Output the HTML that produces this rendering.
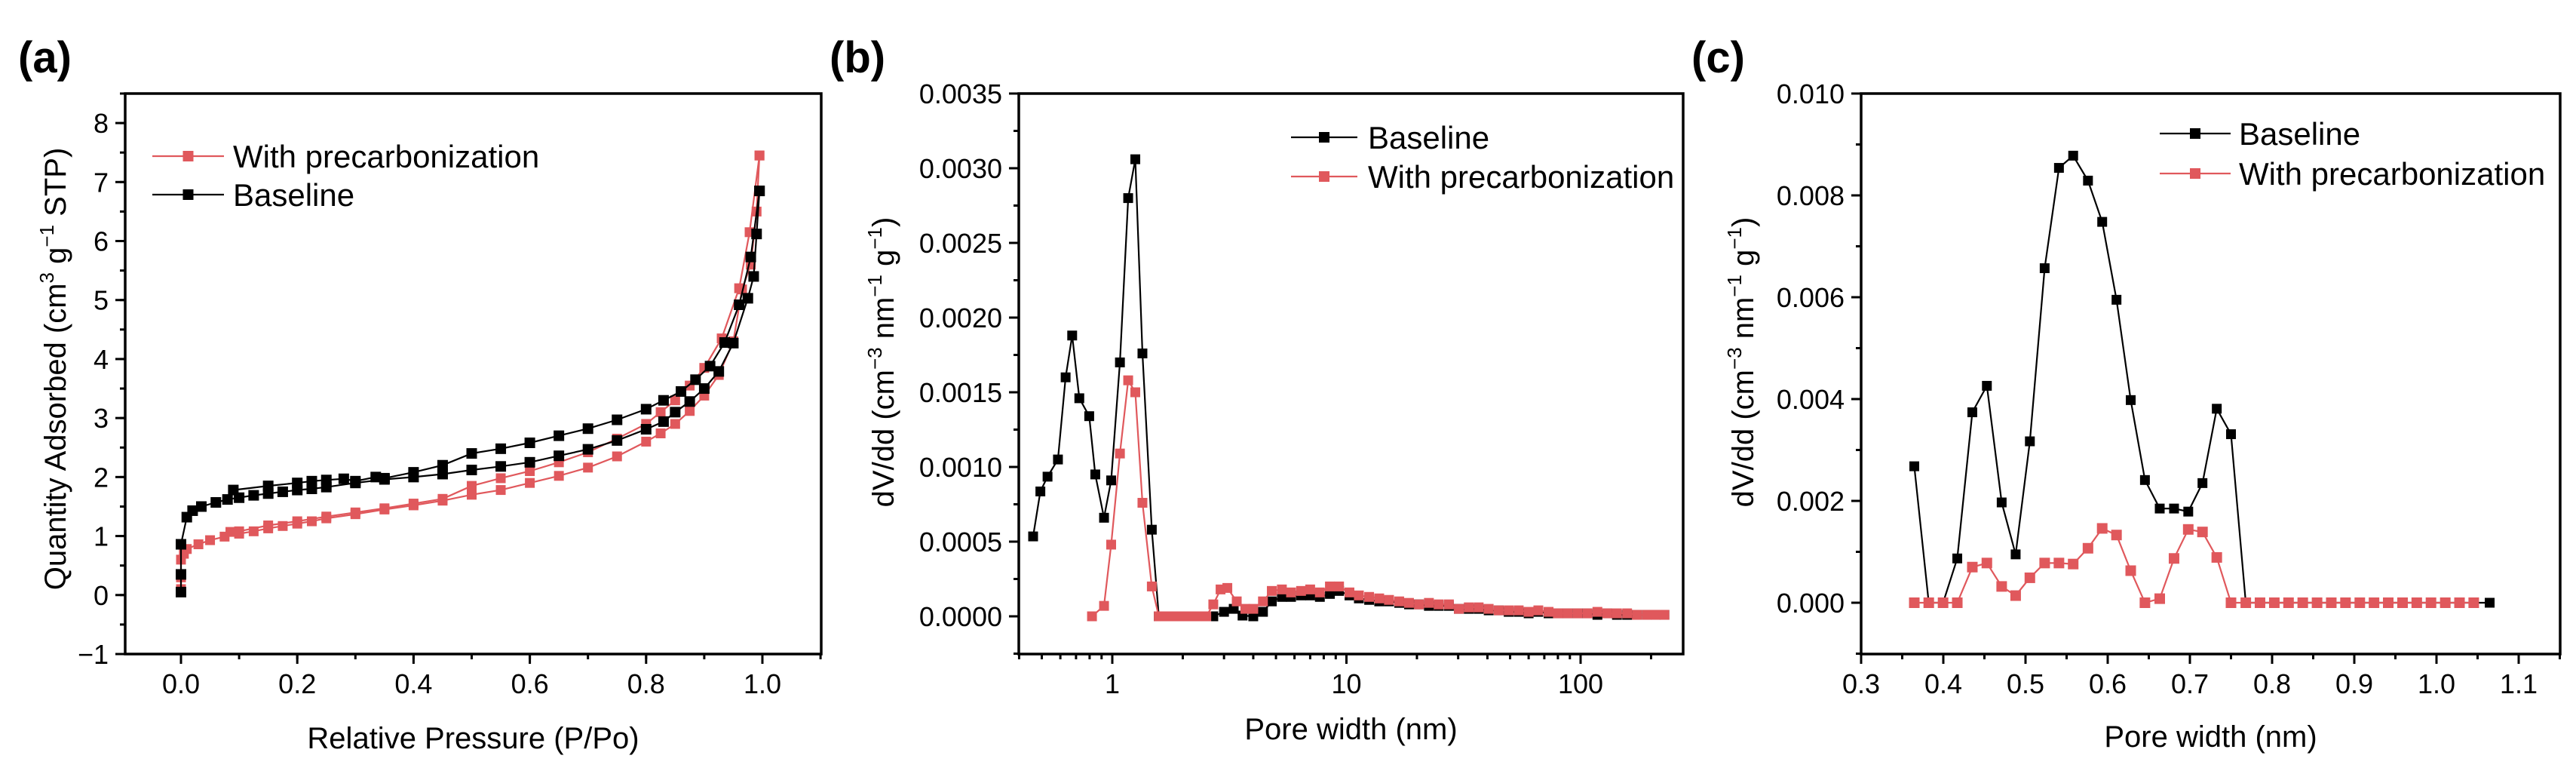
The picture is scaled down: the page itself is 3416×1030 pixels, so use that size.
<!DOCTYPE html>
<html><head><meta charset="utf-8"><style>
html,body{margin:0;padding:0;background:#fff;}
svg{display:block;font-family:"Liberation Sans",Arial,sans-serif;}
</style></head><body>
<svg id="fig" width="3416" height="1030" viewBox="0 0 3416 1030" xmlns="http://www.w3.org/2000/svg"></svg>
<script>
// ---------- Panel (a) data: isotherms ----------
const aBaseAdsX=[0,0,0,0.01,0.02,0.035,0.06,0.08,0.1,0.125,0.15,0.175,0.2,0.225,0.25,0.3,0.35,0.4,0.45,0.5,0.55,0.6,0.65,0.7,0.75,0.8,0.83,0.85,0.875,0.9,0.925,0.95,0.975,0.985,0.99,0.995];
const aBaseAdsY=[0.05,0.35,0.86,1.32,1.43,1.5,1.57,1.62,1.65,1.69,1.72,1.75,1.78,1.8,1.83,1.9,1.96,2.0,2.05,2.12,2.18,2.25,2.36,2.47,2.62,2.81,2.94,3.1,3.28,3.5,3.79,4.27,5.03,5.4,6.12,6.85];
const aBaseDesX=[0.995,0.98,0.96,0.935,0.91,0.885,0.86,0.83,0.8,0.75,0.7,0.65,0.6,0.55,0.5,0.45,0.4,0.35,0.335,0.3,0.28,0.25,0.225,0.2,0.15,0.09];
const aBaseDesY=[6.85,5.73,4.92,4.28,3.88,3.65,3.45,3.3,3.15,2.97,2.82,2.7,2.58,2.48,2.4,2.2,2.08,1.98,2.0,1.93,1.97,1.95,1.93,1.9,1.85,1.78];
const aPreAdsX=[0,0,0,0.005,0.01,0.03,0.05,0.075,0.1,0.125,0.15,0.175,0.2,0.225,0.25,0.3,0.35,0.4,0.45,0.5,0.55,0.6,0.65,0.7,0.75,0.8,0.825,0.85,0.875,0.9,0.925,0.95,0.965,0.98,0.99,0.995];
const aPreAdsY=[0.1,0.3,0.6,0.7,0.78,0.86,0.93,0.99,1.04,1.08,1.13,1.17,1.21,1.25,1.3,1.37,1.45,1.52,1.6,1.7,1.78,1.9,2.02,2.16,2.35,2.6,2.74,2.9,3.12,3.38,3.73,4.3,5.18,5.6,6.5,7.45];
const aPreDesX=[0.995,0.978,0.96,0.93,0.9,0.875,0.85,0.825,0.8,0.75,0.7,0.65,0.6,0.55,0.5,0.45,0.4,0.35,0.3,0.25,0.2,0.15,0.1,0.085];
const aPreDesY=[7.45,6.15,5.2,4.35,3.85,3.55,3.3,3.1,2.9,2.65,2.42,2.25,2.1,1.98,1.85,1.63,1.55,1.47,1.4,1.33,1.25,1.18,1.08,1.07];
const aXTicks=[0,0.2,0.4,0.6,0.8,1.0];
const aXTickLabels=["0.0","0.2","0.4","0.6","0.8","1.0"];
const aYTicks=[-1,0,1,2,3,4,5,6,7,8];
const aYTickLabels=["\u22121","0","1","2","3","4","5","6","7","8"];

// ---------- Panel (b) data: PSD log scale ----------
const bBaseX=[0.459,0.493,0.529,0.586,0.632,0.674,0.723,0.797,0.846,0.922,0.989,1.078,1.169,1.254,1.345,1.475,1.58,2.7,3.0,3.3,3.6,4.0,4.4,4.8,5.3,5.8,6.4,7.0,7.7,8.5,9.3,10.3,11.3,12.5,13.8,15.2,16.8,18.5,20.4,22.5,24.8,27.4,30.2,33.3,36.7,40.5,44.7,49.3,54.4,60,66,73,80,88,97,107,118,130,143,158,174,192,210,228];
const bBaseY=[0.000535,0.000836,0.000935,0.00105,0.0016,0.00188,0.00146,0.00134,0.00095,0.00066,0.00091,0.0017,0.0028,0.00306,0.00176,0.00058,0,0,0.00003,0.00005,0.000005,0,0.00003,0.0001,0.00013,0.00013,0.00014,0.00014,0.00013,0.00015,0.00017,0.00014,0.00012,0.00011,0.0001,0.0001,0.00009,0.00008,0.00008,0.00007,0.00007,0.00007,0.00005,0.00005,0.00005,0.00004,0.00004,0.00003,0.00003,0.00002,0.00003,0.00002,0.00002,0.00002,0.00002,0.00002,0.00001,0.00002,0.00001,0.00001,0.00001,0.00001,0.00001,0.00001];
const bPreX=[0.819,0.922,0.989,1.078,1.169,1.254,1.345,1.475,1.58,1.68,1.78,1.89,2.0,2.12,2.25,2.38,2.52,2.7,2.9,3.1,3.4,3.7,4.0,4.4,4.8,5.3,5.8,6.4,7.0,7.7,8.5,9.3,10.3,11.3,12.5,13.8,15.2,16.8,18.5,20.4,22.5,24.8,27.4,30.2,33.3,36.7,40.5,44.7,49.3,54.4,60,66,73,80,88,97,107,118,130,143,158,174,192,210,228];
const bPreY=[0,0.00007,0.00048,0.00109,0.00158,0.0015,0.00076,0.0002,0,0,0,0,0,0,0,0,0,0.00008,0.00018,0.00019,0.0001,0.00005,0.00005,0.0001,0.00017,0.00018,0.00016,0.00017,0.00018,0.00016,0.0002,0.0002,0.00016,0.00014,0.00013,0.00012,0.00011,0.0001,0.00009,0.00008,0.00009,0.00008,0.00008,0.00005,0.00006,0.00006,0.00005,0.00004,0.00004,0.00004,0.00003,0.00004,0.00003,0.00002,0.00002,0.00002,0.00002,0.00003,0.00002,0.00002,0.00002,0.00001,0.00001,0.00001,0.00001];
const bYTicks=[0,0.0005,0.001,0.0015,0.002,0.0025,0.003,0.0035];
const bYTickLabels=["0.0000","0.0005","0.0010","0.0015","0.0020","0.0025","0.0030","0.0035"];
const bXTicks=[1,10,100];
const bXTickLabels=["1","10","100"];

// ---------- Panel (c) data ----------
const cX=[0.3647,0.3823,0.3997,0.417,0.4353,0.453,0.471,0.488,0.5053,0.5233,0.5407,0.558,0.576,0.5933,0.6107,0.628,0.6453,0.6633,0.6807,0.698,0.7153,0.7327,0.75,0.768,0.7853,0.8027,0.82,0.8373,0.8547,0.872,0.8893,0.9067,0.924,0.9413,0.9587,0.976,0.9933,1.0107,1.028,1.0453,1.0647];
const cBaseY=[0.00268,0,0,0.00087,0.00374,0.00426,0.00197,0.00095,0.00317,0.00657,0.00854,0.00878,0.00829,0.00748,0.00595,0.00398,0.00241,0.00185,0.00185,0.00179,0.00235,0.00381,0.00331,0,0,0,0,0,0,0,0,0,0,0,0,0,0,0,0,0,0];
const cPreY=[0,0,0,0,0.0007,0.00078,0.00032,0.00014,0.00049,0.00078,0.00078,0.00076,0.00107,0.00146,0.00133,0.00063,0,0.00008,0.00087,0.00144,0.00139,0.00089,0,0,0,0,0,0,0,0,0,0,0,0,0,0,0,0,0,0];
const cXTicks=[0.3,0.4,0.5,0.6,0.7,0.8,0.9,1.0,1.1];
const cXTickLabels=["0.3","0.4","0.5","0.6","0.7","0.8","0.9","1.0","1.1"];
const cYTicks=[0,0.002,0.004,0.006,0.008,0.010];
const cYTickLabels=["0.000","0.002","0.004","0.006","0.008","0.010"];

const NS="http://www.w3.org/2000/svg";
const svg=document.getElementById('fig');
const RED="#e0585c", BLK="#000";
function mk(tag,attrs,parent,text){const e=document.createElementNS(NS,tag);for(const k in attrs)e.setAttribute(k,attrs[k]);if(text!==undefined)e.textContent=text;(parent||svg).appendChild(e);return e;}

function panel(opt){
  const g=mk('g',{});
  
  
  const {L,R,T,B}=opt;
  const tg=mk('g',{stroke:'#000','stroke-width':3},g);
  
  
  opt.xMinor.forEach(v=>{const x=opt.sx(v);if(x>=L-1&&x<=R+1)mk('line',{x1:x,x2:x,y1:B,y2:B+7},tg);});
  opt.yMinor.forEach(v=>{const y=opt.sy(v);if(y>=T-1&&y<=B+1)mk('line',{x1:L,x2:L-7,y1:y,y2:y},tg);});
  opt.xTicks.forEach((v,i)=>{const x=opt.sx(v);mk('line',{x1:x,x2:x,y1:B,y2:B+13},tg);
    const t=mk('text',{x:x,y:B+52,'font-size':36,'text-anchor':'middle'},g,opt.xLabels[i]);
    });
  opt.yTicks.forEach((v,i)=>{const y=opt.sy(v);mk('line',{x1:L,x2:L-13,y1:y,y2:y},tg);
    const t=mk('text',{x:L-22,y:y+13,'font-size':36,'text-anchor':'end'},g,opt.yLabels[i]);
    });
  opt.series.forEach(s=>{
    const sg=mk('g',{},g);
    
    
    const pts=s.x.map((v,i)=>opt.sx(v).toFixed(1)+','+opt.sy(s.y[i]).toFixed(1)).join(' ');
    mk('polyline',{points:pts,fill:'none',stroke:s.c,'stroke-width':2.2},sg);
    const m=s.m;
    s.x.forEach((v,i)=>{const r=mk('rect',{x:opt.sx(v)-m/2,y:opt.sy(s.y[i])-m/2,width:m,height:m,fill:s.c},sg);
      });
  });
  const fr=mk('rect',{x:L,y:T,width:R-L,height:B-T,fill:'none',stroke:'#000','stroke-width':3.5},g);
  
  const xt=mk('text',{x:(L+R)/2,y:opt.xTitleY,'font-size':40,'text-anchor':'middle'},g,opt.xTitle);
  
  const yt=mk('text',{x:0,y:0,'font-size':40,'text-anchor':'middle',transform:`translate(${opt.yTitleX},${opt.yTitleY}) rotate(-90)`},g);
  
  yt.innerHTML=opt.yTitle;
  const pl=mk('text',{x:opt.labX,y:96,'font-size':58,'font-weight':'bold'},g,opt.lab);
  
  opt.legend.forEach(e=>{
    const lg=mk('g',{},g);
    
    
    mk('line',{x1:e.x1,x2:e.x2,y1:e.y,y2:e.y,stroke:e.c,'stroke-width':2.2},lg);
    mk('rect',{x:(e.x1+e.x2)/2-7,y:e.y-7,width:14,height:14,fill:e.c},lg);
    mk('text',{x:e.tx,y:e.y+15,'font-size':42},lg,e.t);
  });
}
function range(a,b,s){const r=[];for(let v=a;v<=b+1e-9;v+=s)r.push(+v.toFixed(6));return r;}

{const L=166,R=1089,T=124,B=867;
 const sx=v=>240+(v-0)*771; const sy=v=>B-(v+1)*(B-T)/9.5;
 panel({name:'panel-a',L,R,T,B,sx,sy,xTicks:aXTicks,xLabels:aXTickLabels,yTicks:aYTicks,yLabels:aYTickLabels,
  xMinor:range(-0.1,1.1,0.1),yMinor:range(-1,8.5,0.5),
  series:[{name:'precarb-adsorption',x:aPreAdsX,y:aPreAdsY,c:RED,m:13},{name:'precarb-desorption',x:aPreDesX,y:aPreDesY,c:RED,m:13},
          {name:'baseline-adsorption',x:aBaseAdsX,y:aBaseAdsY,c:BLK,m:14},{name:'baseline-desorption',x:aBaseDesX,y:aBaseDesY,c:BLK,m:14}],
  xTitle:'Relative Pressure (P/Po)',xTitleY:992,yTitleX:87,yTitleY:489,
  yTitle:'Quantity Adsorbed (cm<tspan font-size="26" dy="-16">3</tspan><tspan dy="16"> g</tspan><tspan font-size="26" dy="-16">\u22121</tspan><tspan dy="16"> STP)</tspan>',
  lab:'(a)',labX:24,
  legend:[{x1:202,x2:297,y:207,c:RED,tx:309,t:'With precarbonization'},{x1:202,x2:297,y:258,c:BLK,tx:309,t:'Baseline'}]});}
{const L=1351,R=2232,T=124,B=867;
 const sx=v=>1475+Math.log10(v)*310.5; const sy=v=>817-v/0.0005*99;
 const minor=[];[0.1,1,10,100].forEach(d=>{for(let k=2;k<=9;k++)minor.push(d*k);});
 panel({name:'panel-b',L,R,T,B,sx,sy,xTicks:bXTicks,xLabels:bXTickLabels,yTicks:bYTicks,yLabels:bYTickLabels,
  xMinor:minor,yMinor:range(-0.00025,0.0035,0.00025),
  series:[{name:'baseline-psd',x:bBaseX,y:bBaseY,c:BLK,m:13},{name:'precarb-psd',x:bPreX,y:bPreY,c:RED,m:13}],
  xTitle:'Pore width (nm)',xTitleY:980,yTitleX:1185,yTitleY:480,
  yTitle:'dV/dd (cm<tspan font-size="26" dy="-16">\u22123</tspan><tspan dy="16"> nm</tspan><tspan font-size="26" dy="-16">\u22121</tspan><tspan dy="16"> g</tspan><tspan font-size="26" dy="-16">\u22121</tspan><tspan dy="16">)</tspan>',
  lab:'(b)',labX:1100,
  legend:[{x1:1712,x2:1800,y:182,c:BLK,tx:1814,t:'Baseline'},{x1:1712,x2:1800,y:234,c:RED,tx:1814,t:'With precarbonization'}]});}
{const L=2468,R=3395,T=124,B=867;
 const sx=v=>2468+(v-0.3)*1090; const sy=v=>799-v/0.01*675;
 panel({name:'panel-c',L,R,T,B,sx,sy,xTicks:cXTicks,xLabels:cXTickLabels,yTicks:cYTicks,yLabels:cYTickLabels,
  xMinor:range(0.3,1.15,0.05),yMinor:range(-0.001,0.01,0.001),
  series:[{name:'baseline-psd',x:cX,y:cBaseY,c:BLK,m:13},{name:'precarb-psd',x:cX.slice(0,40),y:cPreY,c:RED,m:14}],
  xTitle:'Pore width (nm)',xTitleY:990,yTitleX:2325,yTitleY:480,
  yTitle:'dV/dd (cm<tspan font-size="26" dy="-16">\u22123</tspan><tspan dy="16"> nm</tspan><tspan font-size="26" dy="-16">\u22121</tspan><tspan dy="16"> g</tspan><tspan font-size="26" dy="-16">\u22121</tspan><tspan dy="16">)</tspan>',
  lab:'(c)',labX:2243,
  legend:[{x1:2864,x2:2958,y:177,c:BLK,tx:2969,t:'Baseline'},{x1:2864,x2:2958,y:230,c:RED,tx:2969,t:'With precarbonization'}]});}
</script>
</body></html>
